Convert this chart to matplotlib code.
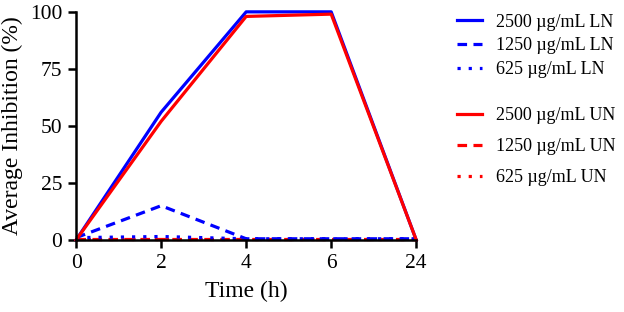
import matplotlib
matplotlib.use("Agg")
import matplotlib.pyplot as plt
from matplotlib.lines import Line2D

plt.rcParams['font.family'] = ['Liberation Serif', 'DejaVu Serif']

times = ["0", "2", "4", "6", "24"]
ln_2500 = [0, 56, 100, 100, 0]
ln_1250 = [1, 15, 0.5, 0.5, 0.5]
ln_625 = [1, 1.5, 0.5, 0.5, 0.5]
un_2500 = [0, 52, 98, 99, 0]
un_1250 = [0.3, 0.3, 0.3, 0.3, 0.3]
un_625 = [0.3, 0.3, 0.3, 0.3, 0.3]

labels_ln = ["2500 µg/mL LN", "1250 µg/mL LN", "625 µg/mL LN"]
labels_un = ["2500 µg/mL UN", "1250 µg/mL UN", "625 µg/mL UN"]

fig = plt.figure(figsize=(6.24, 3.12), dpi=100)
ax = fig.add_axes([0.122, 0.231, 0.545, 0.731])

x = range(len(times))
lw = 2.3
styles = ["-", (0, (3, 2)), (0, (1, 2.5))]

for ys, ls in zip([un_1250, un_625], styles[1:]):
    ax.plot(x, ys, color="red", lw=lw, ls=ls, clip_on=False)
for ys, ls in zip([ln_1250, ln_625], styles[1:]):
    ax.plot(x, ys, color="blue", lw=lw, ls=ls, clip_on=False)
ax.plot(x, ln_2500, color="blue", lw=lw, clip_on=False)
ax.plot(x, un_2500, color="red", lw=lw, clip_on=False)

ax.set_xlim(0, len(times) - 1)
ax.set_ylim(0, 100)
ax.set_xticks(list(x))
ax.set_xticklabels(times)
ax.set_yticks([0, 25, 50, 75, 100])
ax.tick_params(labelsize=15.5, width=1.8, length=6, pad=4)
ax.set_xlabel("Time (h)", fontsize=17, labelpad=6)
ax.set_ylabel("Average Inhibition (%)", fontsize=17, labelpad=5)
for s in ["top", "right"]:
    ax.spines[s].set_visible(False)
for s in ["left", "bottom"]:
    ax.spines[s].set_linewidth(1.8)

h_ln = [Line2D([], [], color="blue", lw=lw, ls=ls) for ls in styles]
h_un = [Line2D([], [], color="red", lw=lw, ls=ls) for ls in styles]
fig.legend(h_ln, labels_ln, loc="upper left", bbox_to_anchor=(0.712, 0.997),
           frameon=False, fontsize=13, handlelength=1.4, labelspacing=0.38,
           handletextpad=0.75, borderaxespad=0.3)
fig.legend(h_un, labels_un, loc="upper left", bbox_to_anchor=(0.712, 0.697),
           frameon=False, fontsize=13, handlelength=1.4, labelspacing=0.78,
           handletextpad=0.75, borderaxespad=0.3)

fig.savefig("out.png", dpi=100)
